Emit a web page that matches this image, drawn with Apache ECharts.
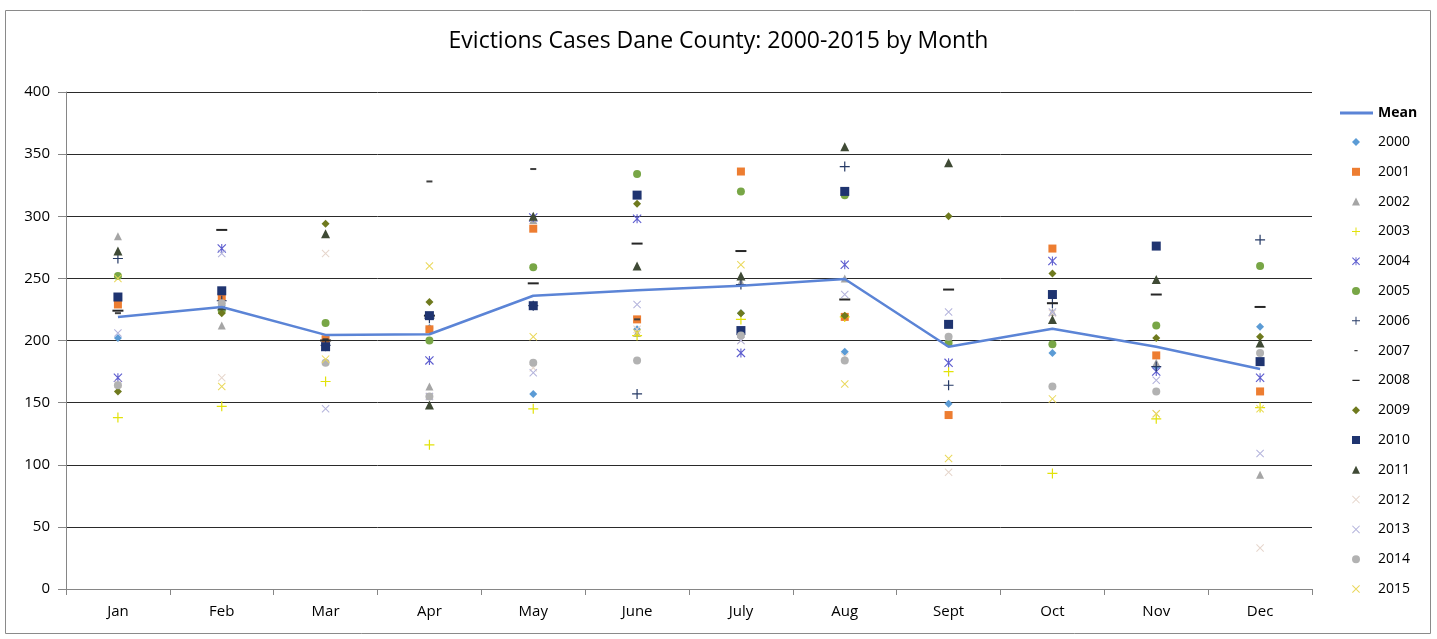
<!DOCTYPE html>
<html>
<head>
<meta charset="utf-8">
<script src="https://cdn.jsdelivr.net/npm/echarts@6/dist/echarts.min.js"></script>
<style>
  html, body { margin: 0; padding: 0; background: #fff; }
  #main { width: 1437px; height: 639px; }
</style>
</head>
<body>
<div id="main"></div>
<script>
var months = ['Jan', 'Feb', 'Mar', 'Apr', 'May', 'June', 'July', 'Aug', 'Sept', 'Oct', 'Nov', 'Dec'];
var meanValues = [219, 227, 204.5, 205, 236, 240.5, 244, 249.5, 195, 209.5, 195, 177];

var y2000 = [202, 228, 195, 210, 157, 209, 222, 191, 149, 190, 179, 211];
var y2001 = [229, 235, 201, 209, 290, 217, 336, 219, 140, 274, 188, 159];
var y2002 = [284, 212, 196, 163, 297, 206, 247, 250, 202, 223, 182, 92];
var y2003 = [138, 147, 167, 116, 145, 204, 217, 219, 175, 93, 137, 146];
var y2004 = [170, 274, 195, 184, 299, 298, 190, 261, 182, 264, 175, 170];
var y2005 = [252, 224, 214, 200, 259, 334, 320, 317, 198, 197, 212, 260];
var y2006 = [266, 232, 196, 218, 228, 157, 245, 340, 164, 230, 179, 281];
var y2007 = [222, 240, 201, 328, 338, 217, 208, 220, 213, 237, 276, 183];
var y2008 = [224, 289, 200, 220, 246, 278, 272, 233, 241, 230, 237, 227];
var y2009 = [159, 222, 294, 231, 228, 310, 222, 220, 300, 254, 202, 203];
var y2010 = [235, 240, 195, 220, 228, 317, 208, 320, 213, 237, 276, 183];
var y2011 = [272, 228, 286, 148, 300, 260, 252, 356, 343, 217, 249, 198];
var y2012 = [165, 170, 270, 155, 178, 209, 200, 187, 94, 222, 141, 33];
var y2013 = [206, 270, 145, 155, 174, 229, 200, 237, 223, 223, 168, 109];
var y2014 = [164, 230, 182, 155, 182, 184, 204, 184, 203, 163, 159, 190];
var y2015 = [250, 163, 185, 260, 203, 206, 261, 165, 105, 153, 141, 145];

var PLUS = 'path://M4.4,0 h1.2 v10 h-1.2 z M0,4.4 h10 v1.2 h-10 z';
var CROSS = 'path://M0,0.9 L0.9,0 L10,9.1 L9.1,10 Z M9.1,0 L10,0.9 L0.9,10 L0,9.1 Z';
var STAR = 'path://M0,0.9 L0.9,0 L10,9.1 L9.1,10 Z M9.1,0 L10,0.9 L0.9,10 L0,9.1 Z M4.4,0 h1.2 v10 h-1.2 z';
// legend icons for the dashes: tiny corner specks keep the box square
var DASH_S = 'path://M0,0 h0.01 v0.01 h-0.01 z M9.99,9.99 h0.01 v0.01 h-0.01 z M3,4.2 h4 v1.6 h-4 z';
var DASH_L = 'path://M0,0 h0.01 v0.01 h-0.01 z M9.99,9.99 h0.01 v0.01 h-0.01 z M0.5,4.2 h9 v1.6 h-9 z';

var yearSeries = [
  ['2000', y2000, 'diamond', 8, '#5B9BD5'],
  ['2001', y2001, 'rect', 8, '#ED7D31'],
  ['2002', y2002, 'triangle', 8, '#A5A5A5'],
  ['2003', y2003, PLUS, 10, '#E2E20A'],
  ['2004', y2004, STAR, 9, '#5D5DCF'],
  ['2005', y2005, 'circle', 8, '#78A646'],
  ['2006', y2006, PLUS, 10, '#263A66'],
  ['2007', y2007, 'rect', [6, 2], '#404040'],
  ['2008', y2008, 'rect', [11, 2], '#262626'],
  ['2009', y2009, 'diamond', 8, '#6F7A1E'],
  ['2010', y2010, 'rect', 9, '#1F3470'],
  ['2011', y2011, 'triangle', 9, '#3F4A35'],
  ['2012', y2012, CROSS, 8, '#E6D6CC'],
  ['2013', y2013, CROSS, 8, '#B4B4DC'],
  ['2014', y2014, 'circle', 8, '#B2B2B2'],
  ['2015', y2015, CROSS, 8, '#EAD85A']
];

var series = [{
  name: 'Mean',
  type: 'line',
  data: meanValues,
  symbol: 'none',
  z: 3,
  lineStyle: { color: '#5B84D6', width: 2.5 },
  itemStyle: { color: '#5B84D6' }
}];
yearSeries.forEach(function (s) {
  series.push({
    name: s[0],
    type: 'scatter',
    data: s[1],
    symbol: s[2],
    symbolSize: s[3],
    z: 2,
    itemStyle: { color: s[4], opacity: 1 }
  });
});

var legendYears = yearSeries.map(function (s) {
  if (s[0] === '2007') return { name: s[0], icon: DASH_S };
  if (s[0] === '2008') return { name: s[0], icon: DASH_L };
  return { name: s[0] };
});

var chart = echarts.init(document.getElementById('main'));
chart.setOption({
  animation: false,
  textStyle: { fontFamily: 'Open Sans' },
  title: {
    text: 'Evictions Cases Dane County: 2000-2015 by Month',
    left: 'center',
    top: 25,
    textStyle: { fontSize: 23, fontWeight: 'normal', color: '#000', fontFamily: 'Open Sans' }
  },
  graphic: [{
    type: 'rect',
    shape: { x: 5.5, y: 10.5, width: 1425, height: 623 },
    style: { fill: 'none', stroke: '#8a8a8a', lineWidth: 1 },
    silent: true
  }],
  legend: [{
    orient: 'vertical',
    left: 1340,
    top: 106,
    padding: 0,
    itemWidth: 33,
    itemHeight: 3,
    textStyle: { fontSize: 14, fontWeight: 'bold', color: '#000' },
    data: [{ name: 'Mean', icon: 'rect' }]
  }, {
    orient: 'vertical',
    left: 1352,
    top: 135,
    padding: 0,
    itemWidth: 8,
    itemHeight: 8,
    itemGap: 15.8,
    textStyle: { fontSize: 14, color: '#000', padding: [0, 0, 0, 13] },
    data: legendYears
  }],
  grid: { left: 66, right: 125, top: 92, bottom: 50 },
  xAxis: {
    type: 'category',
    data: months,
    boundaryGap: true,
    axisLine: { lineStyle: { color: '#868686' } },
    axisTick: { show: true, interval: 0, length: 6, lineStyle: { color: '#868686' } },
    axisLabel: { fontSize: 15, color: '#000', margin: 15 }
  },
  yAxis: {
    type: 'value',
    min: 0,
    max: 400,
    interval: 50,
    axisLine: { show: true, lineStyle: { color: '#868686' } },
    axisTick: { show: true, length: 8, lineStyle: { color: '#868686' } },
    axisLabel: { fontSize: 15, color: '#000', margin: 16 },
    splitLine: { lineStyle: { color: '#2a2a2a', width: 1 } }
  },
  series: series
});
</script>
</body>
</html>
